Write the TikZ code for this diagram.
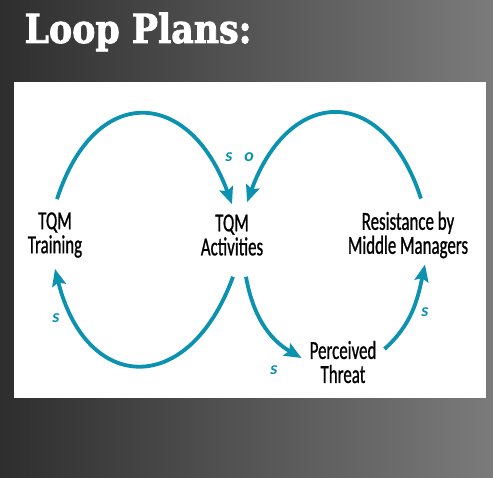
\documentclass[tikz,border=0pt]{standalone}
\usepackage{fontspec}
\setmainfont{Carlito}
\newfontfamily\handfont[FakeStretch=0.65, FakeBold=0.8]{Carlito}
\newfontfamily\titlefont[FakeStretch=0.87, BoldFeatures={FakeBold=2}]{DejaVu Serif}
\usetikzlibrary{arrows.meta}
\definecolor{loopteal}{RGB}{10,146,176}
\tikzset{
  looptext/.style={align=center, font=\handfont\fontsize{26}{24}\selectfont, inner sep=0pt},
  looparrow/.style={-{Stealth[length=17pt,width=14pt,inset=3pt]}, line width=3.8pt, draw=loopteal},
  looplabel/.style={text=loopteal, font=\fontsize{18}{18}\selectfont\bfseries\itshape, inner sep=0pt},
}

\begin{document}
\begin{tikzpicture}[x=1pt,y=1pt]
  \useasboundingbox (0,0) rectangle (493,477);
  \shade[left color=black!82, right color=black!52] (0,0) rectangle (493,477);
  \fill[white] (14,79) rectangle (486,395);
  \node[anchor=base west, text=white, font=\titlefont\bfseries\fontsize{40}{40}\selectfont] (title) at (21,434) {Loop Plans:};
  \node[looptext] (train) at (55,242) {TQM\\Training};
  \node[looptext] (act) at (232,242) {TQM\\Activities};
  \node[looptext] (res) at (408,242) {Resistance by\\Middle Managers};
  \node[looptext] (threat) at (343,115) {Perceived\\Threat};
  % left loop
  \draw[looparrow] ([xshift=2pt,yshift=13pt]train.north) to[out=72, in=110, looseness=1.8] ([yshift=10pt]act.north);
  \draw[looparrow] ([xshift=1pt,yshift=-21pt]act.south) to[out=-110, in=-76, looseness=1.85] ([yshift=-11pt]train.south);
  % right loop
  \draw[looparrow] ([xshift=13pt,yshift=13pt]res.north) to[out=108, in=70, looseness=1.8] ([xshift=15pt,yshift=12pt]act.north);
  \draw[looparrow] ([xshift=14pt,yshift=-21pt]act.south) to[out=-80, in=150] ([xshift=-8pt,yshift=4pt]threat.west);
  \draw[looparrow] ([xshift=8pt,yshift=13pt]threat.east) to[out=42, in=-102] ([xshift=17pt,yshift=-6pt]res.south);
  % polarity labels
  \node[looplabel] (s1) at (229,320) {s};
  \node[looplabel] (o1) at (249,320) {o};
  \node[looplabel] (s2) at (56,159) {s};
  \node[looplabel] (s3) at (274,107) {s};
  \node[looplabel] (s4) at (425,165) {s};
\end{tikzpicture}
\end{document}
